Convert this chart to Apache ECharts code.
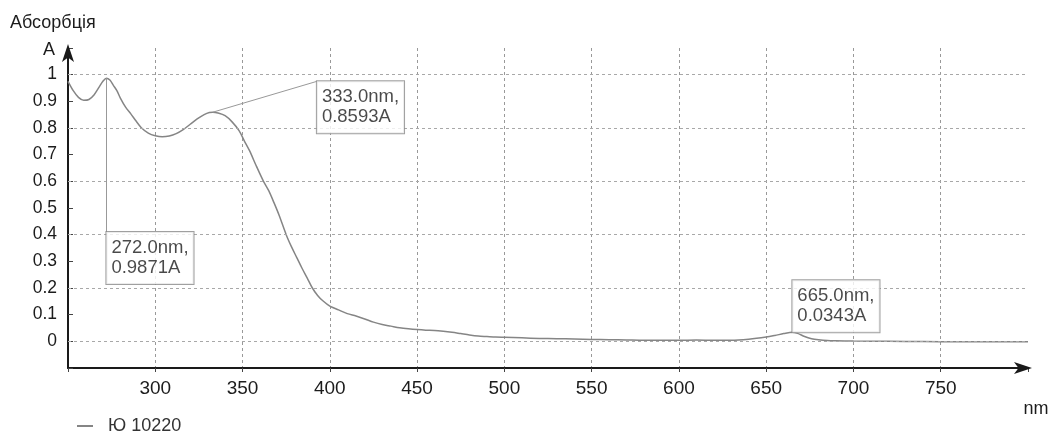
<!DOCTYPE html>
<html>
<head>
<meta charset="utf-8">
<script src="https://cdn.jsdelivr.net/npm/echarts@6/dist/echarts.min.js"></script>
<style>
  html, body { margin: 0; padding: 0; background: #fff; }
  #chart { width: 1053px; height: 435px; }
</style>
</head>
<body>
<div id="chart"></div>
<script>
// ---- data ----
const seriesName = 'Ю 10220';
const wavelength = [250,253,256,259,262,265,268,270,272,274,276,278,280,283,286,289,292,296,300,304,308,312,316,320,324,328,331,333,336,340,344,348,351,354,358,362,365,368,371,375,378,381,384,387,390,393,396,400,405,410,415,420,425,430,435,440,445,450,455,460,465,470,475,480,485,490,495,500,510,520,530,540,550,560,570,580,590,600,610,620,630,640,650,655,660,665,668,672,676,680,685,690,700,720,740,760,780,800];
const absorbance = [0.975,0.94,0.915,0.904,0.907,0.925,0.955,0.975,0.987,0.98,0.96,0.94,0.912,0.878,0.853,0.826,0.801,0.781,0.771,0.767,0.77,0.779,0.794,0.814,0.834,0.85,0.858,0.8593,0.856,0.846,0.823,0.79,0.752,0.715,0.656,0.6,0.565,0.52,0.472,0.4,0.355,0.315,0.275,0.238,0.2,0.172,0.152,0.132,0.118,0.104,0.095,0.084,0.072,0.063,0.057,0.051,0.047,0.044,0.042,0.041,0.038,0.034,0.029,0.024,0.02,0.018,0.016,0.015,0.013,0.011,0.01,0.009,0.007,0.006,0.005,0.004,0.004,0.004,0.005,0.004,0.004,0.008,0.016,0.022,0.029,0.0343,0.03,0.018,0.01,0.006,0.003,0.002,0.001,0.0,-0.001,-0.002,-0.002,-0.002];
const peakNm = [272, 333, 665];
const peakA = [0.9871, 0.8593, 0.0343];
const yGridValues = [0, 0.2, 0.4, 0.6, 0.8, 1.0];
const yTitle = 'Абсорбція';
const yUnit = 'A';
const xUnit = 'nm';

// ---- layout of annotation boxes (data coords of box corner) ----
const boxAnchor = [
  { coord: [272, 0.41], align: 'left', vAlign: 'top' },
  { coord: [392.6, 0.975], align: 'left', vAlign: 'top' },
  { coord: [665, 0.0343], align: 'left', vAlign: 'bottom' }
];

const FONT = "'Liberation Sans', Arial, sans-serif";
const TXT = '#1c1c1c';
const curve = wavelength.map((w, i) => [w, absorbance[i]]);

const annoData = peakNm.map((nm, i) => ({
  value: boxAnchor[i].coord,
  label: {
    show: true,
    position: [0, 0],
    align: boxAnchor[i].align,
    verticalAlign: boxAnchor[i].vAlign,
    formatter: nm.toFixed(1) + 'nm,\n' + peakA[i].toFixed(4) + 'A'
  }
}));

const leaderLines = peakNm.map((nm, i) => [
  { coord: [nm, peakA[i]] },
  { coord: boxAnchor[i].coord }
]);

function axisLineStyle() {
  return {
    show: true, onZero: false,
    lineStyle: { color: '#1a1a1a', width: 2 },
    symbol: ['none', 'arrow'], symbolSize: [9, 18], symbolOffset: [0, 4]
  };
}

const chart = echarts.init(document.getElementById('chart'), null, { renderer: 'canvas' });
chart.setOption({
  animation: false,
  backgroundColor: '#fff',
  title: {
    text: yTitle, left: 10, top: 14, padding: 0,
    textStyle: { fontFamily: FONT, fontSize: 18, fontWeight: 'normal', color: TXT }
  },
  legend: {
    data: [seriesName], left: 77, top: 417, padding: 0,
    itemWidth: 16, itemHeight: 2,
    icon: 'rect',
    textStyle: { fontFamily: FONT, fontSize: 18, color: '#333', padding: [0, 0, 0, 10] }
  },
  grid: { left: 68, right: 25, top: 48, bottom: 67 },
  xAxis: {
    type: 'value', min: 250, max: 800, interval: 50,
    name: xUnit, nameLocation: 'end', nameGap: 8,
    nameTextStyle: { fontFamily: FONT, fontSize: 18, color: TXT, align: 'center', verticalAlign: 'top', padding: [32, 0, 0, 0] },
    axisLine: axisLineStyle(),
    axisTick: { show: true, inside: false, length: 4, lineStyle: { color: '#444' } },
    axisLabel: {
      fontFamily: FONT, fontSize: 19, color: TXT, margin: 11,
      formatter: v => (v <= 250 || v >= 800) ? '' : String(v)
    },
    splitLine: { show: true, showMinLine: false, showMaxLine: false, lineStyle: { color: '#999', type: [3, 3], width: 1 } }
  },
  yAxis: {
    type: 'value', min: -0.1, max: 1.1, interval: 0.1,
    name: yUnit, nameLocation: 'end', nameGap: -2,
    nameTextStyle: { fontFamily: FONT, fontSize: 18, color: TXT, align: 'right', verticalAlign: 'middle', padding: [0, 13, 0, 0] },
    axisLine: axisLineStyle(),
    axisTick: { show: true, inside: true, length: 5, lineStyle: { color: '#444' } },
    axisLabel: {
      fontFamily: FONT, fontSize: 17.5, color: TXT, margin: 11,
      formatter: v => (v < -0.001 || v > 1.001) ? '' : String(+v.toFixed(1))
    },
    splitLine: { show: false }
  },
  series: [
    {
      name: seriesName,
      type: 'line',
      data: curve,
      showSymbol: false,
      symbol: 'none',
      smooth: 0.3,
      lineStyle: { color: '#858585', width: 1.5 },
      itemStyle: { color: '#858585' },
      markLine: {
        silent: true, symbol: ['none', 'none'], animation: false,
        label: { show: false },
        lineStyle: { color: '#a8a8a8', type: [3, 3], width: 1 },
        data: yGridValues.map(v => ({ yAxis: v }))
      },
      z: 3
    },
    {
      name: 'leaders',
      type: 'line',
      data: [],
      markLine: {
        silent: true, symbol: ['none', 'none'], animation: false,
        label: { show: false },
        lineStyle: { color: '#999', type: 'solid', width: 1 },
        data: leaderLines
      }
    },
    {
      name: 'annotations',
      type: 'scatter',
      symbolSize: 0,
      data: annoData,
      z: 5,
      label: {
        fontFamily: FONT, fontSize: 18.5, lineHeight: 20, color: TXT,
        backgroundColor: '#fff', borderColor: '#888', borderWidth: 1,
        padding: [6, 5, 6, 5]
      }
    }
  ]
});
</script>
</body>
</html>
